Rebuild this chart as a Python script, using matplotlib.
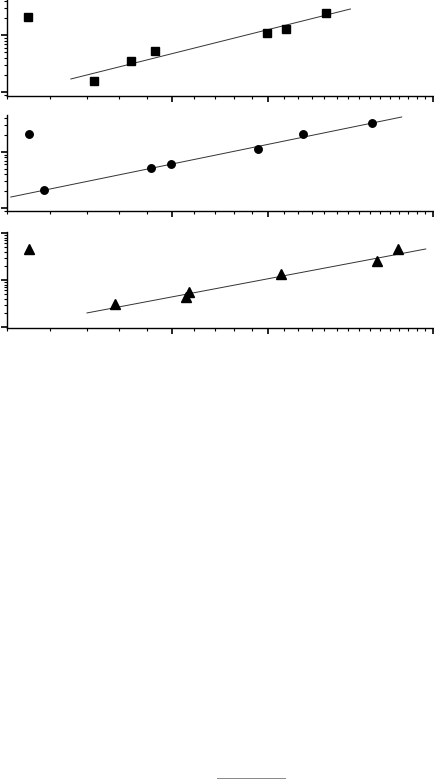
# Three stacked log-log panels with linear fits (outlier at left excluded).
import matplotlib
matplotlib.use("Agg")
import matplotlib.pyplot as plt
from matplotlib.lines import Line2D
from matplotlib.ticker import LogLocator, FixedLocator, NullFormatter

# --- data ---
sq_x = [5.46, 7.21, 8.42, 9.32, 14.9, 16.2, 19.1]
sq_y = [20.7, 1.56, 3.50, 5.24, 10.8, 12.7, 24.3]
sq_fit_x = [6.54, 21.2]
sq_fit_y = [1.69, 28.6]

ci_x = [5.48, 5.84, 9.16, 9.97, 14.4, 17.4, 23.2]
ci_y = [21.0, 2.10, 5.18, 6.11, 11.3, 21.0, 32.9]
ci_fit_x = [5.08, 26.3]
ci_fit_y = [1.57, 42.2]

tr_x = [5.48, 7.88, 10.6, 10.75, 15.8, 23.7, 25.9]
tr_y = [45.7, 3.09, 4.35, 5.55, 13.4, 25.4, 45.7]
tr_fit_x = [7.00, 29.1]
tr_fit_y = [1.99, 45.7]

XLIM = (5, 30)
x_minor = list(range(5, 31))
x_major = [10, 15, 30]

W, H = 435, 783
fig = plt.figure(figsize=(W / 100, H / 100), dpi=100)


def panel(top_px, ylim, xs, ys, fx, fy, marker, ms):
    ax = fig.add_axes([7 / W, 1 - (top_px + 96) / H, 426 / W, 96 / H])
    ax.set_xscale("log")
    ax.set_yscale("log")
    ax.plot(fx, fy, color="#333333", lw=0.7)
    ax.plot(xs, ys, ls="none", marker=marker, ms=ms, color="black")
    ax.set_xlim(*XLIM)
    ax.set_ylim(*ylim)
    for s in ("top", "right"):
        ax.spines[s].set_visible(False)
    for s in ("left", "bottom"):
        ax.spines[s].set_linewidth(1.0)
    ax.xaxis.set_major_locator(FixedLocator(x_major))
    ax.xaxis.set_minor_locator(FixedLocator(x_minor))
    ax.yaxis.set_major_locator(LogLocator(base=10))
    ax.yaxis.set_minor_locator(LogLocator(base=10, subs=range(2, 10)))
    for a in (ax.xaxis, ax.yaxis):
        a.set_major_formatter(NullFormatter())
        a.set_minor_formatter(NullFormatter())
    ax.tick_params(which="major", direction="out", length=4, width=1.2)
    ax.tick_params(which="minor", direction="out", length=2.5, width=0.8)
    ax.patch.set_alpha(0)
    return ax


panel(0, (0.85, 41.1), sq_x, sq_y, sq_fit_x, sq_fit_y, "s", 5.2)
panel(115, (0.884, 45.8), ci_x, ci_y, ci_fit_x, ci_fit_y, "o", 5.4)
panel(232, (0.952, 105), tr_x, tr_y, tr_fit_x, tr_fit_y, "^", 6.5)

# short rule near the bottom of the page
fig.add_artist(Line2D([217 / W, 285 / W], [1 - 778 / H, 1 - 778 / H],
                      color="#888888", lw=0.7))

fig.savefig("out.png", dpi=100)
